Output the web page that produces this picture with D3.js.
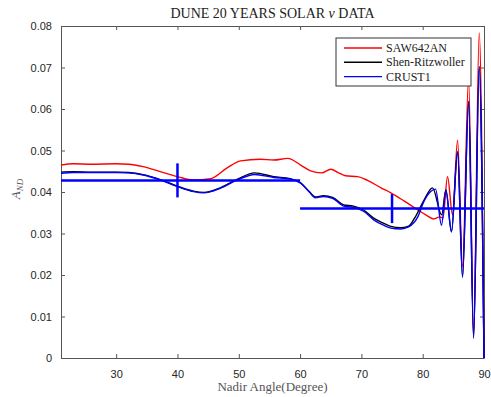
<!DOCTYPE html>
<html>
<head>
<meta charset="utf-8">
<script src="https://cdn.jsdelivr.net/npm/d3@7"></script>
<style>
  body { margin: 0; background: #fff; }
  svg { display: block; }
</style>
</head>
<body>
<svg id="chart"></svg>
<script>
const width = 491;
const height = 397;

// data
const xTicks = [30, 40, 50, 60, 70, 80, 90];
const yTicks = [0, 0.01, 0.02, 0.03, 0.04, 0.05, 0.06, 0.07, 0.08];
const seriesNames = ["SAW642AN", "Shen-Ritzwoller", "CRUST1"];

const sawAngle = [21, 23, 26, 30, 32, 34.4, 37.2, 40, 42.6, 45.4, 48.1, 50.3, 53.5, 55.7, 58, 60.1, 61.7, 63.5, 65, 66.3, 67.4, 69.4, 71, 73.2, 74.8, 77, 79.2, 80.5, 81.8, 82.8, 83.3, 84.05, 84.87, 85.69, 86.5, 87.49, 88.3, 89.22, 90];
const sawValue = [0.0465, 0.0468, 0.0467, 0.0468, 0.0467, 0.0461, 0.0449, 0.0437, 0.0429, 0.0432, 0.0458, 0.0475, 0.0479, 0.0477, 0.0481, 0.0465, 0.0451, 0.0446, 0.0455, 0.0446, 0.0439, 0.0437, 0.0428, 0.041, 0.0398, 0.0378, 0.0357, 0.0345, 0.0335, 0.034, 0.0337, 0.0437, 0.0345, 0.0525, 0.022, 0.0675, 0.006, 0.0783, 0];

const shenAngle = [21, 23, 26, 30, 32, 34.4, 37.2, 40, 42.6, 44.3, 47, 49.8, 52.6, 55.7, 58.4, 60.1, 61.5, 62.5, 63.8, 65.3, 67.1, 68.7, 70.4, 72, 73.6, 74.8, 76.4, 77.7, 78.6, 80.2, 81.6, 83.1, 83.78, 84.7, 85.69, 86.5, 87.49, 88.3, 89.22, 90];
const shenValue = [0.0448, 0.0449, 0.0448, 0.0448, 0.0447, 0.0442, 0.043, 0.0414, 0.0402, 0.0399, 0.041, 0.0431, 0.0446, 0.0437, 0.0432, 0.0422, 0.0401, 0.0388, 0.0391, 0.0387, 0.0369, 0.0366, 0.0356, 0.0337, 0.0325, 0.0317, 0.0314, 0.0318, 0.0335, 0.038, 0.041, 0.0345, 0.0405, 0.0304, 0.0497, 0.0195, 0.0618, 0.0048, 0.0702, 0];

const crustAngle = [21, 23, 26, 30, 32, 34.4, 37.2, 40, 42.6, 44.3, 47, 49.8, 52.6, 55.7, 58.4, 60.1, 61.5, 62.5, 63.8, 65.3, 67.1, 68.7, 70.4, 72, 73.6, 74.8, 76.4, 77.7, 79.2, 80.2, 81.3, 82.1, 83.07, 83.78, 84.7, 85.69, 86.5, 87.49, 88.3, 89.22, 90];
const crustValue = [0.0445, 0.0447, 0.0447, 0.0447, 0.0446, 0.0441, 0.0429, 0.0413, 0.0401, 0.0398, 0.0409, 0.0429, 0.0442, 0.0435, 0.0431, 0.0421, 0.04, 0.0386, 0.0389, 0.0385, 0.0366, 0.0363, 0.0353, 0.0333, 0.032, 0.0313, 0.0311, 0.0316, 0.034, 0.0377, 0.0401, 0.0407, 0.032, 0.0405, 0.0304, 0.0497, 0.0195, 0.0618, 0.0048, 0.0702, 0];

// binned averages with error bars
const binCenter = [40, 75];
const binHalfWidth = [20, 15];
const binValue = [0.0428, 0.036];
const binError = [0.0041, 0.0035];

const colors = ["#ff0000", "#000000", "#0000ff"];

const margin = { top: 26, right: 7, bottom: 39, left: 61 };
const innerWidth = width - margin.left - margin.right;
const innerHeight = height - margin.top - margin.bottom;

const svg = d3.select("#chart")
    .attr("width", width)
    .attr("height", height);

const g = svg.append("g")
    .attr("transform", `translate(${margin.left},${margin.top})`);

const x = d3.scaleLinear().domain([21, 90]).range([0, innerWidth]);
const y = d3.scaleLinear().domain([0, 0.08]).range([innerHeight, 0]);

g.append("clipPath")
    .attr("id", "plotClip")
    .append("rect")
    .attr("x", 0)
    .attr("y", -2)
    .attr("width", innerWidth + 1)
    .attr("height", innerHeight + 3);

const axisColor = "#555";
const tickFont = "Liberation Sans, Arial, sans-serif";

function styleAxis(sel) {
    sel.select(".domain").attr("stroke", axisColor);
    sel.selectAll(".tick line").attr("stroke", axisColor);
    sel.selectAll(".tick text")
        .attr("fill", "#262626")
        .style("font-family", tickFont)
        .style("font-size", "11px");
}

g.append("g")
    .attr("transform", `translate(0,${innerHeight})`)
    .call(d3.axisBottom(x).tickValues(xTicks).tickSizeInner(-4).tickSizeOuter(0).tickPadding(12).tickFormat(d3.format("d")))
    .call(styleAxis);

g.append("g")
    .call(d3.axisTop(x).tickValues(xTicks).tickSizeInner(-4).tickSizeOuter(0))
    .call(styleAxis)
    .call(a => a.selectAll(".tick text").remove());

g.append("g")
    .call(d3.axisLeft(y).tickValues(yTicks).tickSizeInner(-4).tickSizeOuter(0).tickPadding(9).tickFormat(d => d === 0 ? "0" : d3.format(".2f")(d)))
    .call(styleAxis);

g.append("g")
    .attr("transform", `translate(${innerWidth},0)`)
    .call(d3.axisRight(y).tickValues(yTicks).tickSizeInner(-4).tickSizeOuter(0))
    .call(styleAxis)
    .call(a => a.selectAll(".tick text").remove());

const plot = g.append("g").attr("clip-path", "url(#plotClip)");

const line = d3.line()
    .x(d => x(d[0]))
    .y(d => y(d[1]))
    .curve(d3.curveMonotoneX);

const series = [
    d3.zip(sawAngle, sawValue),
    d3.zip(shenAngle, shenValue),
    d3.zip(crustAngle, crustValue)
];

series.forEach((pts, i) => {
    plot.append("path")
        .datum(pts)
        .attr("fill", "none")
        .attr("stroke", colors[i])
        .attr("stroke-width", 1.4)
        .attr("stroke-linejoin", "round")
        .attr("d", line);
});

// error bars
binCenter.forEach((c, i) => {
    plot.append("line")
        .attr("x1", x(c - binHalfWidth[i]))
        .attr("x2", x(c + binHalfWidth[i]))
        .attr("y1", y(binValue[i]))
        .attr("y2", y(binValue[i]))
        .attr("stroke", "#0000ff")
        .attr("stroke-width", 2.5);
    plot.append("line")
        .attr("x1", x(c))
        .attr("x2", x(c))
        .attr("y1", y(binValue[i] - binError[i]))
        .attr("y2", y(binValue[i] + binError[i]))
        .attr("stroke", "#0000ff")
        .attr("stroke-width", 2.5);
});

const serif = "Liberation Serif, Times New Roman, serif";

// title
svg.append("text")
    .attr("x", margin.left + innerWidth / 2)
    .attr("y", 18)
    .attr("text-anchor", "middle")
    .style("font-family", serif)
    .style("font-size", "14px")
    .attr("fill", "#222")
    .html("DUNE 20 YEARS SOLAR <tspan font-style='italic'>ν</tspan> DATA");

// x label
svg.append("text")
    .attr("x", margin.left + innerWidth / 2)
    .attr("y", 391)
    .attr("text-anchor", "middle")
    .style("font-family", serif)
    .style("font-size", "13px")
    .attr("fill", "#555")
    .text("Nadir Angle(Degree)");

// y label
const yl = svg.append("text")
    .attr("transform", `translate(20,${margin.top + innerHeight / 2 - 3}) rotate(-90)`)
    .attr("text-anchor", "middle")
    .style("font-family", serif)
    .style("font-style", "italic")
    .style("font-size", "13px")
    .attr("fill", "#555");
yl.append("tspan").text("A");
yl.append("tspan").attr("dy", 3).style("font-size", "9px").text("ND");

// legend
const legend = svg.append("g").attr("transform", "translate(336,38)");
legend.append("rect")
    .attr("width", 135)
    .attr("height", 48)
    .attr("fill", "#fff")
    .attr("stroke", "#333")
    .attr("stroke-width", 1);

seriesNames.forEach((name, i) => {
    const ly = 10 + i * 14.3;
    legend.append("line")
        .attr("x1", 8)
        .attr("x2", 46)
        .attr("y1", ly)
        .attr("y2", ly)
        .attr("stroke", colors[i])
        .attr("stroke-width", 1.4);
    legend.append("text")
        .attr("x", 50)
        .attr("y", ly + 4)
        .style("font-family", serif)
        .style("font-size", "12px")
        .attr("fill", "#222")
        .text(name);
});
</script>
</body>
</html>
